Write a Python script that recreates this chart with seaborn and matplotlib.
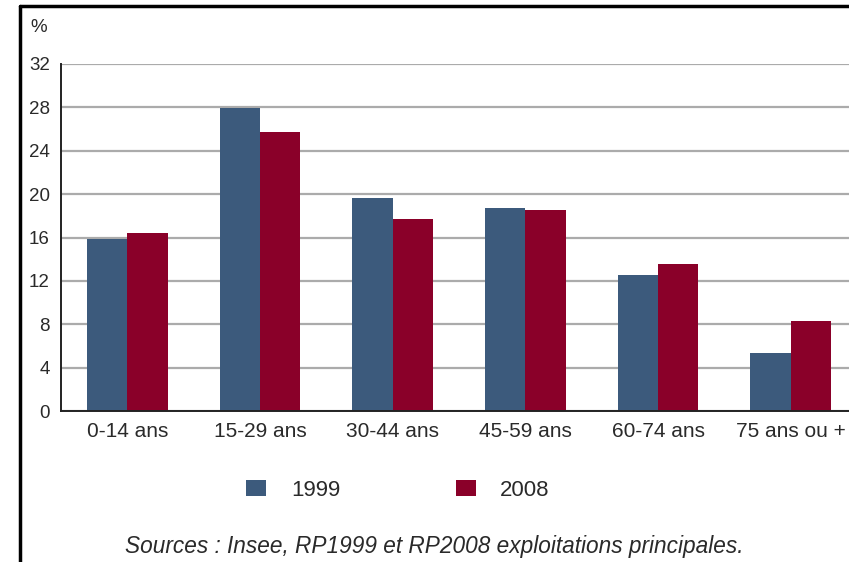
import matplotlib
matplotlib.use("Agg")
import matplotlib.pyplot as plt
from matplotlib.lines import Line2D
from matplotlib.patches import Patch
import pandas as pd
import seaborn as sns

# Age groups and shares of the population (%)
age_groups = ["0-14 ans", "15-29 ans", "30-44 ans", "45-59 ans", "60-74 ans", "75 ans ou +"]
pct_1999 = [15.9, 27.9, 19.6, 18.7, 12.55, 5.35]
pct_2008 = [16.4, 25.7, 17.7, 18.5, 13.55, 8.3]
years = ["1999", "2008"]
y_ticks = [0, 4, 8, 12, 16, 20, 24, 28, 32]
source_note = "Sources : Insee, RP1999 et RP2008 exploitations principales."

colors = {"1999": "#3c5a7c", "2008": "#8a0029"}

df = pd.DataFrame({
    "age": age_groups * 2,
    "pct": pct_1999 + pct_2008,
    "year": [years[0]] * len(age_groups) + [years[1]] * len(age_groups),
})

sns.set_style("white")
plt.rcParams["font.family"] = ["Liberation Sans", "DejaVu Sans"]

fig = plt.figure(figsize=(8.49, 5.62), dpi=100)
ax = fig.add_axes([61 / 849, 1 - 411 / 562, 796 / 849, (411 - 64) / 562])

sns.barplot(data=df, x="age", y="pct", hue="year", order=age_groups,
            hue_order=years, palette=colors, width=0.61, saturation=1,
            linewidth=0, ax=ax, legend=False, zorder=3)

ax.set_xlim(-0.5, 5.5)
ax.set_ylim(0, 32)
ax.set_yticks(y_ticks)
ax.set_yticklabels([str(t) for t in y_ticks])
ax.yaxis.grid(True, color="#ababab", linewidth=1.6, zorder=0)
ax.set_axisbelow(True)
ax.set_xlabel("")
ax.set_ylabel("")

for side in ["top", "right"]:
    ax.spines[side].set_visible(False)
ax.spines["left"].set_color("#222222")
ax.spines["left"].set_linewidth(1.4)
ax.spines["bottom"].set_color("#222222")
ax.spines["bottom"].set_linewidth(1.4)
ax.spines["bottom"].set_zorder(4)

ax.tick_params(axis="x", length=0, pad=8, labelsize=15, labelcolor="#2a2a2a")
ax.tick_params(axis="y", length=0, pad=8, labelsize=13.5, labelcolor="#2a2a2a")

# Unit label above the value axis
fig.text(39 / 849, 1 - 28 / 562, "%", ha="center", va="center",
         fontsize=13.5, color="#2a2a2a")

# Legend below the chart
handles = [Patch(facecolor=colors[y], edgecolor="none") for y in years]
fig.legend(handles, years, loc="center", bbox_to_anchor=(398 / 849, 1 - 490 / 562),
           ncol=2, frameon=False, fontsize=16, handlelength=0.9, handleheight=0.75,
           handletextpad=1.1, columnspacing=5.2, labelcolor="#2a2a2a")

# Source note
fig.text(434 / 849, 1 - 547 / 562, source_note, ha="center", va="center",
         fontsize=16.3, style="italic", color="#2a2a2a")

# Frame lines on the left and top
fig.add_artist(Line2D([20 / 849, 20 / 849], [0, 1 - 6 / 562], color="black",
                      linewidth=2.5, transform=fig.transFigure))
fig.add_artist(Line2D([20 / 849, 1], [1 - 6 / 562, 1 - 6 / 562], color="black",
                      linewidth=2.5, transform=fig.transFigure))

fig.savefig("out.png", dpi=100)
